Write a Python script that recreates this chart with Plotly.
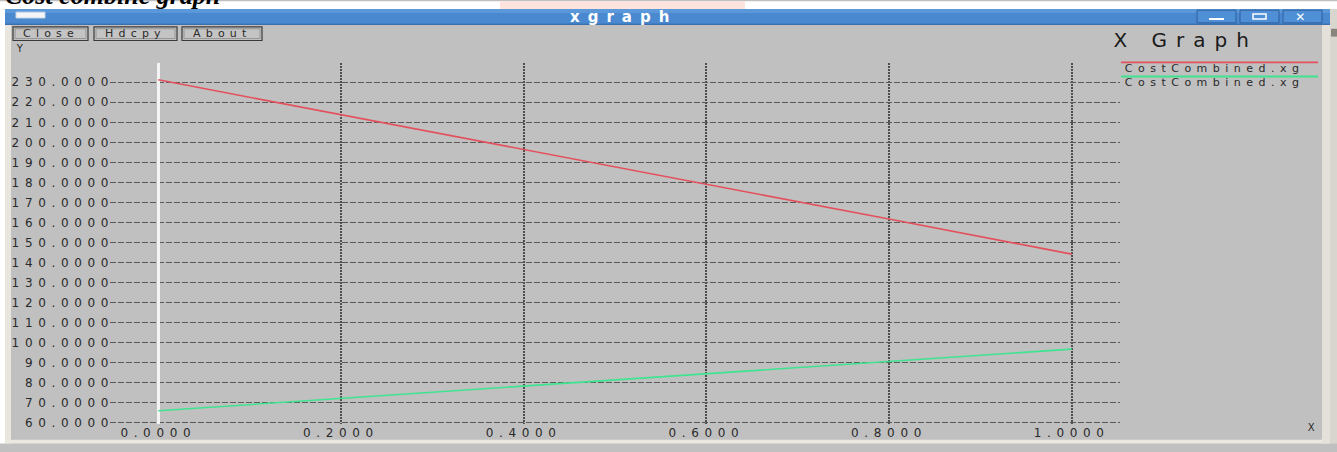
import plotly.graph_objects as go

# ---------------- data ----------------
x_vals = [0.0, 0.2, 0.4, 0.6, 0.8, 1.0]
cost_red = [231.2, 213.9, 196.6, 179.3, 161.7, 144.2]
cost_green = [66.0, 72.2, 78.4, 84.5, 90.6, 96.8]
series_names = ["CostCombined.xg", "CostCombined.xg"]
series_colors = ["#e4505c", "#3ee490"]
y_ticks = list(range(60, 240, 10))
x_ticks = [0.0, 0.2, 0.4, 0.6, 0.8, 1.0]

W, H = 1337, 452
L, R, T, B = 110, 1120, 63, 432

def px(x):
    return (x - L) / (R - L)

def py(y):
    return (B - y) / (B - T)

GRAY = "#c0c0c0"
TXT = "#2a2a2a"
FONT = "DejaVu Sans"

fig = go.Figure()
for yv, nm, col in zip([cost_red, cost_green], series_names, series_colors):
    fig.add_trace(go.Scatter(x=x_vals, y=yv, mode="lines", name=nm,
                             line=dict(color=col, width=1.6), showlegend=False))

shapes = []
annotations = []

def rect(x0, y0, x1, y1, fill, line=None, lw=0, layer="above"):
    shapes.append(dict(type="rect", xref="paper", yref="paper",
                       x0=px(x0), x1=px(x1), y0=py(y0), y1=py(y1),
                       fillcolor=fill, line=dict(color=line or fill, width=lw),
                       layer=layer))

def hline(x0, x1, y, color, width=1.5):
    shapes.append(dict(type="line", xref="paper", yref="paper",
                       x0=px(x0), x1=px(x1), y0=py(y), y1=py(y),
                       line=dict(color=color, width=width)))

def text(x, y, s, size=11, color=TXT, xanchor="center", yanchor="middle",
         family=FONT, bold=False):
    annotations.append(dict(xref="paper", yref="paper", x=px(x), y=py(y),
                            text=("<b>%s</b>" % s) if bold else s,
                            showarrow=False, xanchor=xanchor, yanchor=yanchor,
                            font=dict(size=size, color=color, family=family)))

# page background above the window
rect(0, 0, W, 8, "#ffffff")
rect(500, 0, 745, 8, "#fde3de")
# window borders
rect(0, 8, 5, H, "#ffffff")
rect(5, 24, 11, H, "#e9e6df")
rect(5, 448, 1330, H, "#ebe8e2")
rect(1322, 24, 1330, H, "#e4e1da")
rect(1330, 8, W, H, "#d9d6cf")
rect(1331, 28, W, 36, "#8a857c")
# title bar
rect(5, 8, 1330, 24, "#4a89cf")
rect(5, 8, 1330, 12, "#5a98da")
rect(5, 23, 1330, 24, "#2f62a0")
rect(16, 11, 45, 17, "#f4f6fa", line="#c8d4e4", lw=1)
# right-hand window buttons
for bx0, bx1 in [(1197, 1236), (1240, 1279), (1283, 1322)]:
    rect(bx0, 9, bx1, 22, "#4f8fd6", line="#2e5f9c", lw=1)
hline(1209, 1224, 18, "#ffffff", 2)
rect(1253, 13, 1266, 18, "#4f8fd6", line="#ffffff", lw=1.5)
text(1302.5, 15.5, "✕", size=12, color="#ffffff", bold=True)
text(623, 16, "xgraph", size=15, color="#ffffff", bold=True)

# xgraph buttons
for bx0, bx1, lab in [(13, 88, "Close"), (94, 177, "Hdcpy"), (182, 262, "About")]:
    rect(bx0, 26, bx1, 40, "#c4c4c4", line="#3a3a3a", lw=1.2)
    rect(bx0 + 2, 28, bx1 - 2, 38, "#c4c4c4", line="#8a8a8a", lw=0.8)
    text((bx0 + bx1) / 2, 33, lab, size=11)

# page heading, cut off by the top of the image
text(3, 11, "<b><i>Cost combine graph</i></b>", size=26, color="#000000",
     xanchor="left", yanchor="bottom", family="Liberation Serif")

# axis unit labels and title
text(22, 48, "Y", size=10)
text(1313, 436, "X", size=10)
text(1185, 39, "X Graph", size=20, color="#1a1a1a")

# legend
for i, (nm, col) in enumerate(zip(series_names, series_colors)):
    y0 = 62.3 + i * 14.5
    hline(1121, 1318, y0, col, 1.8)
    text(1214, y0 + 6.5, nm, size=11)

fig.update_layout(
    width=W, height=H,
    margin=dict(l=L, r=W - R, t=T, b=H - B, pad=0),
    paper_bgcolor=GRAY, plot_bgcolor=GRAY,
    shapes=shapes, annotations=annotations,
    font=dict(family=FONT, color=TXT, size=12),
    xaxis=dict(range=[(L - 158.3) / 913.4, (R - 158.3) / 913.4],
               tickvals=x_ticks, tickformat=".4f",
               showgrid=True, gridcolor="#4e4e4e", gridwidth=2, griddash="2px,1px",
               zeroline=True, zerolinecolor="#f4f4f4", zerolinewidth=2.5,
               showline=False, ticks="", tickfont=dict(size=12, color=TXT)),
    yaxis=dict(range=[59.4, 239.6], tickvals=y_ticks, tickformat=".4f",
               showgrid=True, gridcolor="#5a5a5a", gridwidth=1, griddash="6px,2px",
               zeroline=False, showline=False, ticks="",
               tickfont=dict(size=12, color=TXT)),
)

post = """
document.documentElement.style.overflow = 'hidden';
document.body.style.overflow = 'hidden';
document.body.style.margin = '0';
document.body.style.padding = '0';
var sp = {'X Graph': '9px', 'xgraph': '8px', 'Cost combine graph': '0px',
          'CostCombined.xg': '0.5em'};
document.querySelectorAll('.main-svg text').forEach(function(t){
  var s = t.textContent;
  if (s in sp) { t.style.letterSpacing = sp[s]; }
  else { t.style.letterSpacing = '0.47em'; }
});
document.querySelectorAll('.ytick text').forEach(function(t){
  t.setAttribute('dx', '5');
});
"""
fig.write_html("out.html", post_script=post,
               config={"displayModeBar": False, "staticPlot": True})
